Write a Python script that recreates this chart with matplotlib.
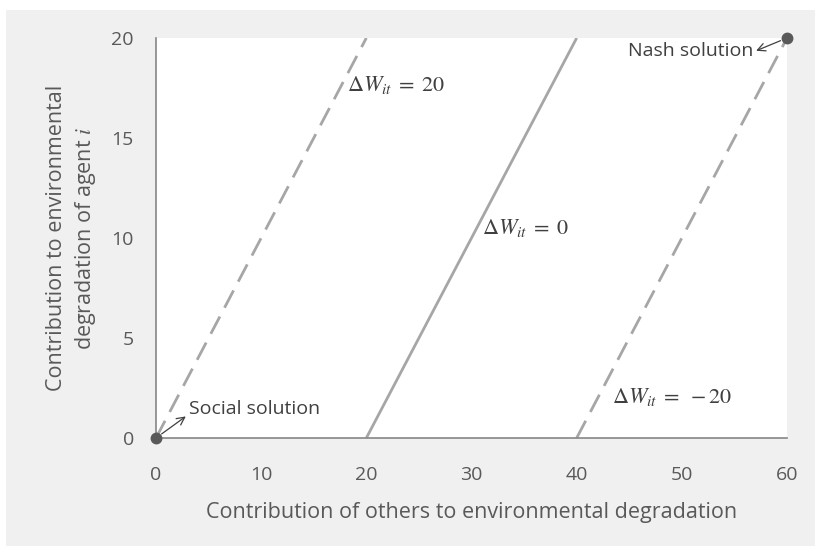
import matplotlib
matplotlib.use("Agg")
import matplotlib.pyplot as plt
from matplotlib.patches import Rectangle

plt.rcParams["mathtext.fontset"] = "stix"

# Iso-welfare lines: contribution of others (x) vs own contribution (y)
line_labels = ["20", "0", "-20"]
line_x_start = [0, 20, 40]
line_x_end = [20, 40, 60]
line_y_start = [0, 0, 0]
line_y_end = [20, 20, 20]
line_dashed = [True, False, True]

# Equilibrium points
point_names = ["Social solution", "Nash solution"]
point_x = [0, 60]
point_y = [0, 20]

x_ticks = [0, 10, 20, 30, 40, 50, 60]
y_ticks = [0, 5, 10, 15, 20]

FONT = "Open Sans"
TICK_COLOR = "#595959"
LINE_COLOR = "#a6a6a6"
LABEL_SIZE = 15.5
TICK_SIZE = 14

fig = plt.figure(figsize=(8.15, 5.46), dpi=100, facecolor="white")
fig.patches.append(Rectangle((6 / 815, 0), 809 / 815, 536 / 546,
                             transform=fig.transFigure, facecolor="#f0f0f0",
                             edgecolor="none", zorder=-5))

ax = fig.add_axes([156 / 815, 1 - 438 / 546, 631 / 815, 400 / 546])
ax.set_facecolor("white")
ax.set_xlim(0, 60)
ax.set_ylim(0, 20)

for xs, xe, ys, ye, dashed in zip(line_x_start, line_x_end, line_y_start,
                                  line_y_end, line_dashed):
    ln, = ax.plot([xs, xe], [ys, ye], color=LINE_COLOR, lw=2.0,
                  solid_capstyle="butt", zorder=2)
    if dashed:
        ln.set_dashes([7, 3.6])

ax.plot(point_x, point_y, "o", color="#595959", ms=7.5, clip_on=False, zorder=4)

# Welfare-change labels
label_pos = [(18.2, 17.65), (31.0, 10.5), (43.4, 2.05)]
for lab, (tx, ty) in zip(line_labels, label_pos):
    ax.text(tx, ty, r"$\Delta W_{it}\;=\;" + lab + "$", fontsize=16,
            color="#404040", ha="left", va="center", zorder=3)

ax.annotate(point_names[0], xy=(point_x[0], point_y[0]),
            xytext=(3.1, 1.45), textcoords="data",
            fontsize=14, family=FONT, color="#404040",
            ha="left", va="center", annotation_clip=False,
            arrowprops=dict(arrowstyle="<-", color="#404040", lw=0.9,
                            shrinkA=0, shrinkB=5, relpos=(0, 0.2)))
ax.annotate(point_names[1], xy=(point_x[1], point_y[1]),
            xytext=(56.8, 19.35), textcoords="data",
            fontsize=14, family=FONT, color="#404040",
            ha="right", va="center", annotation_clip=False,
            arrowprops=dict(arrowstyle="<-", color="#404040", lw=0.9,
                            shrinkA=0, shrinkB=5, relpos=(1, 0.45)))

ax.set_xticks(x_ticks)
ax.set_yticks(y_ticks)
ax.tick_params(axis="both", length=0, labelsize=TICK_SIZE, labelcolor=TICK_COLOR)
ax.tick_params(axis="x", pad=20)
ax.tick_params(axis="y", pad=16)
for lbl in ax.get_xticklabels() + ax.get_yticklabels():
    lbl.set_family(FONT)

for side in ("top", "right"):
    ax.spines[side].set_visible(False)
for side in ("left", "bottom"):
    ax.spines[side].set_color("#868686")
    ax.spines[side].set_linewidth(1.2)

ax.set_xlabel("Contribution of others to environmental degradation",
              fontsize=LABEL_SIZE, family=FONT, color=TICK_COLOR, labelpad=13)

fig.text(57 / 815, 1 - 238 / 546, "Contribution to environmental",
         rotation=90, ha="center", va="center", fontsize=LABEL_SIZE,
         family=FONT, color=TICK_COLOR)
fig.text(86 / 815, 1 - 238 / 546, r"degradation of agent $\it{i}$",
         rotation=90, ha="center", va="center", fontsize=LABEL_SIZE,
         family=FONT, color=TICK_COLOR)

fig.savefig("out.png", dpi=100, facecolor="white")
